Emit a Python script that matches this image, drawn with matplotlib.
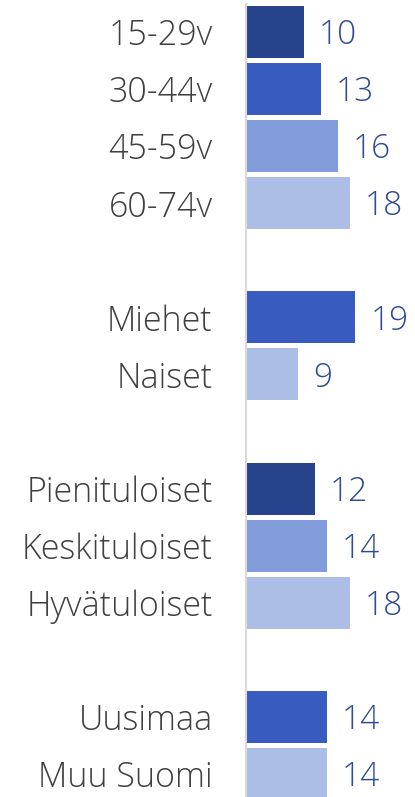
import matplotlib
matplotlib.use("Agg")
import matplotlib.pyplot as plt

labels = ["15-29v", "30-44v", "45-59v", "60-74v",
          "Miehet", "Naiset",
          "Pienituloiset", "Keskituloiset", "Hyvätuloiset",
          "Uusimaa", "Muu Suomi"]
values = [10, 13, 16, 18, 19, 9, 12, 14, 18, 14, 14]
slots = [0, 1, 2, 3, 5, 6, 8, 9, 10, 12, 13]

c_dark = "#27438C"
c_mid = "#375BBE"
c_light = "#829BDA"
c_pale = "#ADBEE6"
colors = [c_dark, c_mid, c_light, c_pale,
          c_mid, c_pale,
          c_dark, c_light, c_pale,
          c_mid, c_pale]

plt.rcParams['font.family'] = ['Open Sans', 'DejaVu Sans']

fig = plt.figure(figsize=(4.15, 7.97), dpi=100)
ax = fig.add_axes([246 / 415, 1 - 802.5 / 797, 167 / 415, 799 / 797])
ax.barh(slots, values, height=0.91, color=colors)
ax.set_ylim(13.5, -0.5)
ax.set_xlim(0, 29)

for s, v in zip(slots, values):
    ax.text(v + 2.6, s + 0.06, str(v), va="center", ha="left",
            fontsize=24, color="#2F4A96", fontweight="light")

ax.set_yticks(slots)
ax.set_yticklabels(labels, fontsize=24.5, color="#404040", fontweight="light")
ax.tick_params(axis="y", length=0, pad=24)
ax.set_xticks([])
for side in ["top", "right", "bottom"]:
    ax.spines[side].set_visible(False)
ax.spines["left"].set_color("#D9D9D9")
ax.spines["left"].set_linewidth(1.5)

fig.savefig("out.png", dpi=100)
